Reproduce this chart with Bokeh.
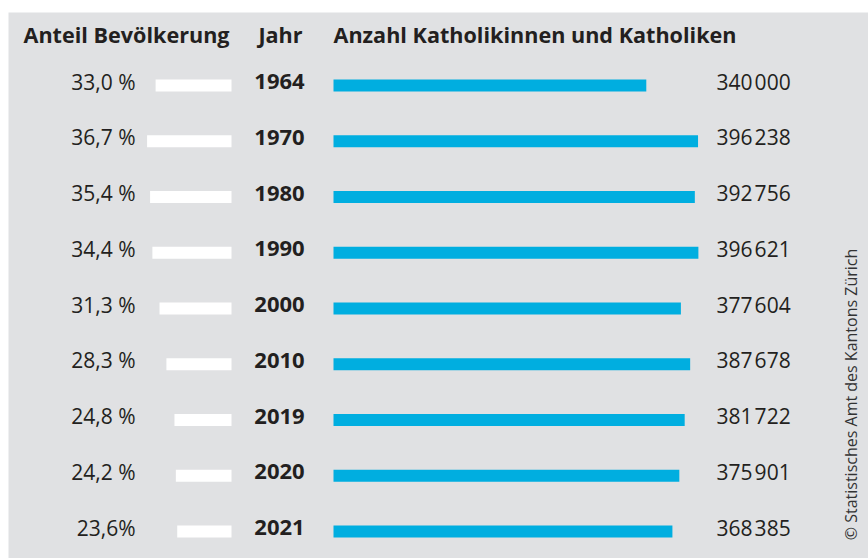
import math
from bokeh.plotting import figure
from bokeh.models import Range1d, ColumnDataSource
from bokeh.core.properties import value
from bokeh.embed import file_html
from bokeh.resources import INLINE

# ---------------- data ----------------
years = ["1964", "1970", "1980", "1990", "2000", "2010", "2019", "2020", "2021"]
share_pct = [33.0, 36.7, 35.4, 34.4, 31.3, 28.3, 24.8, 24.2, 23.6]
share_labels = ["33,0 %", "36,7 %", "35,4 %", "34,4 %", "31,3 %",
                "28,3 %", "24,8 %", "24,2 %", "23,6%"]
catholics = [340000, 396238, 392756, 396621, 377604, 387678, 381722, 375901, 368385]
headers = ["Anteil Bevölkerung", "Jahr", "Anzahl Katholikinnen und Katholiken"]
credit = "© Statistisches Amt des Kantons Zürich"

count_labels = [f"{v:,}".replace(",", "\u200a") for v in catholics]
idx = list(range(len(years)))

# ---------------- layout ----------------
W, H = 868, 558
PAD_L, PAD_T = 8, 12
ROW0, STEP = 85.0, 55.75           # page-pixel centre of first row, row spacing
PCT_ZERO, PCT_PX = 231.0, 2.3      # white bars: right edge, px per %
CNT_ZERO, CNT_PX = 333.0, 0.00092  # blue bars: left edge, px per person

BG = "#e0e1e3"
BLUE = "#00aee0"
INK = "#231f20"
FONT = "Open Sans"

p = figure(width=W, height=H, output_backend="svg", toolbar_location=None,
           x_axis_location=None, y_axis_location=None,
           x_range=Range1d(-(CNT_ZERO - PAD_L) / CNT_PX, (W - CNT_ZERO) / CNT_PX),
           y_range=Range1d((H - ROW0) / STEP, (PAD_T - ROW0) / STEP),
           min_border_left=PAD_L, min_border_top=PAD_T,
           min_border_right=0, min_border_bottom=0,
           background_fill_color=BG, border_fill_color="white",
           outline_line_color=None)
p.grid.visible = False
p.extra_x_ranges = {
    "pct": Range1d((PCT_ZERO - PAD_L) / PCT_PX, -(W - PCT_ZERO) / PCT_PX),
    "px": Range1d(PAD_L, W),
}

src = ColumnDataSource(dict(y=idx, year=years, pct=share_pct, pct_lab=share_labels,
                            cnt=catholics, cnt_lab=count_labels))

bar_h = 12 / STEP
p.hbar(y="y", left=0, right="cnt", height=bar_h, source=src,
       fill_color=BLUE, line_color=None)
p.hbar(y="y", left=0, right="pct", height=bar_h, source=src,
       fill_color="white", line_color=None, x_range_name="pct")

# value labels
p.text(x=135, y="y", text="pct_lab", source=src, x_range_name="px",
       text_align="right", text_baseline="alphabetic", y_offset=-4,
       text_font=value(FONT), text_font_size="21px", text_color=INK)
p.text(x=279, y="y", text="year", source=src, x_range_name="px",
       text_align="center", text_baseline="alphabetic", y_offset=-4,
       text_font=value(FONT), text_font_size="22px", text_font_style="bold",
       text_color=INK)
p.text(x=716, y="y", text="cnt_lab", source=src, x_range_name="px",
       text_align="left", text_baseline="alphabetic", y_offset=-4,
       text_font=value(FONT), text_font_size="21px", text_color=INK)

# column headers
hy = (43 - ROW0) / STEP
p.text(x=[23, 280, 333], y=[hy] * 3, text=headers, x_range_name="px",
       text_align=["left", "center", "left"], text_baseline="alphabetic",
       y_offset=-9,
       text_font=value(FONT), text_font_size="21.6px", text_font_style="bold",
       text_color=INK)

# credit
p.text(x=[850], y=[(394 - ROW0) / STEP], text=[credit], x_range_name="px",
       angle=math.pi / 2, text_align="center", text_baseline="middle",
       text_font=value(FONT), text_font_size="16px", text_color="#333333")

open("out.html", "w").write(file_html(p, INLINE))
